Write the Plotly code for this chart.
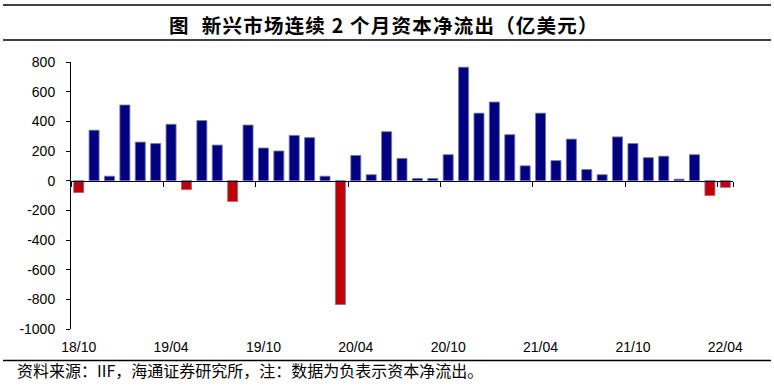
import plotly.graph_objects as go

# Monthly categories 18/10 .. 22/04
months = []
y, m = 2018, 10
while (y, m) <= (2022, 4):
    months.append(f"{y % 100:02d}/{m:02d}")
    m += 1
    if m > 12:
        m = 1
        y += 1

# Net capital flows to emerging markets (100 million USD)
flows = [
    -80, 340, 30, 510, 260, 250, 380, -60, 405, 240, -140, 375,
    220, 200, 305, 290, 30, -835, 170, 40, 330, 150, 15, 15,
    175, 765, 455, 530, 310, 100, 455, 135, 280, 75, 40, 295,
    250, 155, 165, 10, 175, -100, -45,
]

tick_labels = ["18/10", "19/04", "19/10", "20/04", "20/10", "21/04", "21/10", "22/04"]
y_ticks = [800, 600, 400, 200, 0, -200, -400, -600, -800, -1000]

TITLE_HEAD = "图"
TITLE_BODY = "新兴市场连续 2 个月资本净流出（亿美元）"
SOURCE = "资料来源：IIF，海通证券研究所，注：数据为负表示资本净流出。"

POS_COLOR = "#000080"
NEG_COLOR = "#C00000"
colors = [POS_COLOR if v >= 0 else NEG_COLOR for v in flows]

W, H = 774, 387
L, R, T, B = 71, 41, 62, 58
PW, PH = W - L - R, H - T - B

def px(xp):
    return (xp - L) / PW

def py(yp):
    return (H - B - yp) / PH

def spaced(s, sp="\u200a"):
    return sp.join(list(s))

fig = go.Figure()
fig.add_trace(go.Bar(
    x=months, y=flows,
    marker=dict(color=colors, line=dict(color="rgba(110,120,175,0.85)", width=1)),
    showlegend=False, hoverinfo="x+y",
))
# helper trace for the axis drawn through zero (tick marks at boundaries)
fig.add_trace(go.Scatter(
    x=months, y=flows, xaxis="x2", mode="none",
    hoverinfo="skip", showlegend=False,
))

axis_font = dict(family="Liberation Sans, Arial, sans-serif", size=14, color="black")

fig.update_layout(
    width=W, height=H,
    margin=dict(l=L, r=R, t=T, b=B, pad=0),
    paper_bgcolor="white", plot_bgcolor="white",
    bargap=0.35,
    xaxis=dict(
        type="category", categoryarray=months, range=[-0.5, len(months) - 0.5],
        tickvals=tick_labels, ticktext=tick_labels,
        showline=False, ticks="", showgrid=False, zeroline=False,
        tickfont=axis_font, ticklabelstandoff=8,
    ),
    xaxis2=dict(
        type="category", categoryarray=months, range=[-0.5, len(months) - 0.5],
        overlaying="x", anchor="free", position=(0 - (-1000)) / 1800,
        tickvals=tick_labels, tickson="boundaries",
        ticks="outside", ticklen=5, tickcolor="black", tickwidth=1,
        showticklabels=False, showline=True, linecolor="black", linewidth=1,
        showgrid=False, zeroline=False,
    ),
    yaxis=dict(
        range=[-1000, 800], tickvals=y_ticks, ticktext=[str(v) for v in y_ticks],
        ticks="outside", ticklen=4, tickcolor="black", tickwidth=1,
        showline=True, linecolor="black", linewidth=1,
        showgrid=False, zeroline=False,
        tickfont=axis_font, ticklabelstandoff=8,
    ),
    shapes=[
        dict(type="line", xref="paper", yref="paper", x0=px(3), x1=px(771), y0=py(5), y1=py(5),
             line=dict(color="black", width=1.5)),
        dict(type="line", xref="paper", yref="paper", x0=px(3), x1=px(771), y0=py(40), y1=py(40),
             line=dict(color="black", width=1.5)),
        dict(type="line", xref="paper", yref="paper", x0=px(3), x1=px(771), y0=py(360.5), y1=py(360.5),
             line=dict(color="black", width=1.5)),
    ],
    annotations=[
        dict(text="<b>" + TITLE_HEAD + "   " + spaced(TITLE_BODY) + "</b>",
             xref="paper", yref="paper", x=px(167), y=py(24.5),
             xanchor="left", yanchor="middle", showarrow=False,
             font=dict(family="Noto Sans CJK SC", size=19.5, color="black")),
        dict(text=SOURCE,
             xref="paper", yref="paper", x=px(15), y=py(369.5),
             xanchor="left", yanchor="middle", showarrow=False,
             font=dict(family="Noto Sans CJK SC", size=16, color="black")),
    ],
)

fig.write_html("out.html", config={"displayModeBar": False},
               post_script="document.body.style.margin='0px';")
